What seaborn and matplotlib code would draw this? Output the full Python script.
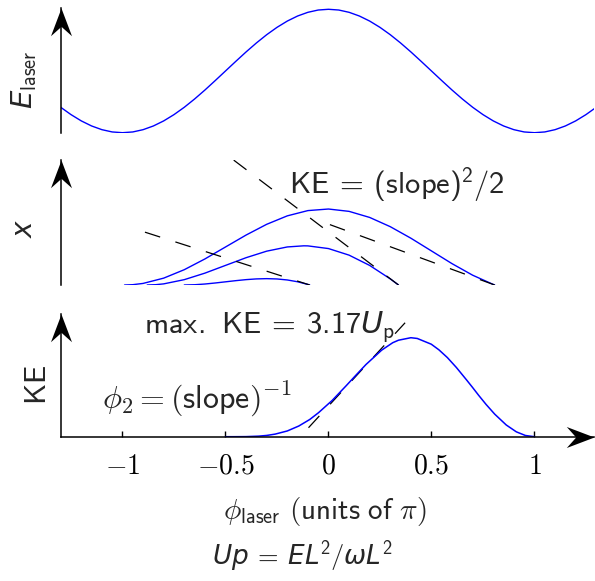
import matplotlib
matplotlib.use("Agg")
import matplotlib.pyplot as plt
import seaborn as sns
from matplotlib.path import Path

# ---------------- data ----------------
# top panel: laser field E_laser vs phase (units of pi)
phi_field = [-1.30, -1.25, -1.20, -1.15, -1.10, -1.05, -1.00, -0.95, -0.90, -0.85,
             -0.80, -0.75, -0.70, -0.65, -0.60, -0.55, -0.50, -0.45, -0.40, -0.35,
             -0.30, -0.25, -0.20, -0.15, -0.10, -0.05, 0.00, 0.05, 0.10, 0.15,
             0.20, 0.25, 0.30, 0.35, 0.40, 0.45, 0.50, 0.55, 0.60, 0.65,
             0.70, 0.75, 0.80, 0.85, 0.90, 0.95, 1.00, 1.05, 1.10, 1.15,
             1.20, 1.25, 1.30]
e_field = [-0.588, -0.707, -0.809, -0.891, -0.951, -0.988, -1.000, -0.988, -0.951, -0.891,
           -0.809, -0.707, -0.588, -0.454, -0.309, -0.156, 0.000, 0.156, 0.309, 0.454,
           0.588, 0.707, 0.809, 0.891, 0.951, 0.988, 1.000, 0.988, 0.951, 0.891,
           0.809, 0.707, 0.588, 0.454, 0.309, 0.156, 0.000, -0.156, -0.309, -0.454,
           -0.588, -0.707, -0.809, -0.891, -0.951, -0.988, -1.000, -0.988, -0.951, -0.891,
           -0.809, -0.707, -0.588]

# middle panel: three electron trajectories x(phi)
traj_long_phi = [-0.99, -0.95, -0.90, -0.80, -0.70, -0.60, -0.50, -0.40, -0.30, -0.20,
                 -0.10, 0.00, 0.10, 0.20, 0.30, 0.40, 0.50, 0.60, 0.70, 0.80, 0.807]
traj_long_x = [0.0, 0.0025, 0.0126, 0.0547, 0.1220, 0.2075, 0.3028, 0.3980, 0.4836, 0.5509,
               0.5929, 0.6054, 0.5867, 0.5383, 0.4647, 0.3729, 0.2714, 0.1699, 0.0780, 0.0044, 0.0]
traj_mid_phi = [-0.88, -0.84, -0.80, -0.70, -0.60, -0.50, -0.40, -0.30, -0.20, -0.12,
                -0.10, 0.00, 0.10, 0.20, 0.30, 0.34]
traj_mid_x = [0.0, 0.0023, 0.0090, 0.0426, 0.0945, 0.1561, 0.2176, 0.2696, 0.3032, 0.3122,
              0.3116, 0.2903, 0.2379, 0.1559, 0.0487, 0.0]
traj_short_phi = [-0.70, -0.65, -0.60, -0.55, -0.50, -0.45, -0.40, -0.35, -0.30, -0.25,
                  -0.20, -0.15, -0.10, -0.091]
traj_short_x = [0.0, 0.0021, 0.0078, 0.0160, 0.0253, 0.0346, 0.0428, 0.0485, 0.0506, 0.0481,
                0.0401, 0.0258, 0.0044, 0.0]

# dashed tangents at the return points (start -> end, end value is 0)
tangent_phi_start = [0.007, -0.46, -0.891]
tangent_phi_end = [0.807, 0.34, -0.091]
tangent_x_start = [0.481, 0.995, 0.421]
tangent_x_end = [0.0, 0.0, 0.0]

# bottom panel: return kinetic energy vs return phase
ke_phi = [-0.50, -0.46, -0.40, -0.34, -0.30, -0.259, -0.20, -0.144, -0.091, -0.048,
          0.018, 0.086, 0.133, 0.182, 0.258, 0.312, 0.34, 0.40, 0.431, 0.499,
          0.536, 0.577, 0.621, 0.671, 0.699, 0.73, 0.765, 0.807, 0.863, 0.912,
          0.956, 1.00]
ke_val = [0.0, 0.00002, 0.0007, 0.0043, 0.0101, 0.0207, 0.046, 0.0858, 0.138, 0.193,
          0.291, 0.409, 0.493, 0.579, 0.694, 0.754, 0.774, 0.794, 0.788, 0.742,
          0.697, 0.635, 0.555, 0.454, 0.396, 0.330, 0.259, 0.181, 0.094, 0.039,
          0.0097, 0.0]
ke_tan_phi = [-0.097, 0.372]
ke_tan_val = [0.072, 0.914]

tick_vals = [-1, -0.5, 0, 0.5, 1]
tick_labels = [r'$\mathsf{-1}$', r'$\mathsf{-0.5}$', r'$\mathsf{0}$', r'$\mathsf{0.5}$', r'$\mathsf{1}$']

# ---------------- style ----------------
sns.set_style("white")
plt.rcParams['font.family'] = ['DejaVu Sans']
plt.rcParams['mathtext.fontset'] = 'cm'
plt.rcParams['mathtext.rm'] = 'cmss10'
plt.rcParams['mathtext.sf'] = 'cmss10'
plt.rcParams['mathtext.bf'] = 'cmss10'
plt.rcParams['mathtext.it'] = 'DejaVu Sans:italic'
plt.rcParams['lines.scale_dashes'] = False

W, H = 595, 581
fig = plt.figure(figsize=(W / 100, H / 100), dpi=100)

XL = (-1.30, 1.29)
left_px, right_px = 60.7, 594.2


def add_axes(top_px, bot_px):
    return fig.add_axes([left_px / W, 1 - bot_px / H, (right_px - left_px) / W,
                         (bot_px - top_px) / H])


def fx(px):
    return px / W


def fy(py):
    return 1 - py / H


def stealth(direction):
    if direction == 'up':
        verts = [(0, 0), (10.5, -27.7), (0, -18.3), (-10.5, -27.7), (0, 0)]
    else:
        verts = [(0, 0), (-27.7, 10.5), (-18.3, 0), (-27.7, -10.5), (0, 0)]
    codes = [Path.MOVETO, Path.LINETO, Path.LINETO, Path.LINETO, Path.CLOSEPOLY]
    return Path(verts, codes)


def style_axis(ax, ylim, xaxis=False):
    ax.set_xlim(*XL)
    ax.set_ylim(*ylim)
    for s in ['top', 'right']:
        ax.spines[s].set_visible(False)
    ax.spines['left'].set_linewidth(1.1)
    ax.spines['left'].set_color('black')
    ax.set_yticks([])
    ax.plot([0], [1], marker=stealth('up'), ms=39.9, color='black', mew=0,
            transform=ax.transAxes, clip_on=False, zorder=5)
    if xaxis:
        ax.spines['bottom'].set_linewidth(1.1)
        ax.spines['bottom'].set_color('black')
        ax.plot([1], [0], marker=stealth('right'), ms=39.9, color='black', mew=0,
                transform=ax.transAxes, clip_on=False, zorder=5)
        ax.set_xticks(tick_vals)
        ax.set_xticklabels(tick_labels, math_fontfamily='cm', fontsize=20)
        ax.tick_params(axis='x', direction='in', length=4.5, width=1.0, pad=11,
                       colors='black', bottom=True)
    else:
        ax.spines['bottom'].set_visible(False)
        ax.set_xticks([])
    ax.set_xlabel('')
    ax.set_ylabel('')
    ax.patch.set_alpha(0)


# ---- top panel ----
ax1 = add_axes(8.3, 133.0)
sns.lineplot(x=phi_field, y=e_field, ax=ax1, color='blue', linewidth=1.0,
             sort=False, estimator=None)
style_axis(ax1, (-1.005, 1.016))

# ---- middle panel ----
ax2 = add_axes(160.0, 285.0)
for px_, xx_ in [(traj_long_phi, traj_long_x), (traj_mid_phi, traj_mid_x),
                 (traj_short_phi, traj_short_x)]:
    sns.lineplot(x=px_, y=xx_, ax=ax2, color='blue', linewidth=1.0,
                 sort=False, estimator=None)
for i in range(len(tangent_phi_start)):
    sns.lineplot(x=[tangent_phi_start[i], tangent_phi_end[i]],
                 y=[tangent_x_start[i], tangent_x_end[i]], ax=ax2, color='black',
                 linewidth=0.9, sort=False, estimator=None)
    ax2.lines[-1].set_dashes([11.5, 11.5])
style_axis(ax2, (0, 0.996))

# ---- bottom panel ----
ax3 = add_axes(314.4, 436.7)
sns.lineplot(x=ke_tan_phi, y=ke_tan_val, ax=ax3, color='black', linewidth=0.9,
             sort=False, estimator=None)
ax3.lines[-1].set_dashes([11.5, 11.5])
sns.lineplot(x=ke_phi, y=ke_val, ax=ax3, color='blue', linewidth=1.1,
             sort=False, estimator=None)
style_axis(ax3, (0, 0.981), xaxis=True)

# ---------------- texts ----------------
fig.text(fx(24), fy(80), r'$E_{\mathrm{laser}}$', rotation=90, ha='center', va='center',
         fontsize=21, math_fontfamily='custom')
fig.text(fx(24), fy(228), r'$x$', rotation=90, ha='center', va='center',
         fontsize=20, math_fontfamily='custom')
fig.text(fx(37), fy(385), r'$\mathrm{KE}$', rotation=90, ha='center', va='center',
         fontsize=22, math_fontfamily='custom')

fig.text(fx(289), fy(194.3), r'$\mathrm{KE}\,=\,\mathrm{(slope)}^{2}/2$', ha='left',
         va='baseline', fontsize=22, math_fontfamily='custom')
fig.text(fx(144), fy(333), r'$\mathrm{max.\ KE}\,=\,3.17U_{\mathrm{p}}$', ha='left',
         va='baseline', fontsize=22, math_fontfamily='custom')
fig.text(fx(102.5), fy(408), r'$\phi_{\mathsf{2}} = \mathsf{(slope)}^{-\mathsf{1}}$',
         ha='left', va='baseline', fontsize=23, math_fontfamily='cm')
fig.text(fx(325), fy(512), r'$\phi_{\mathsf{laser}}\ \mathsf{(units\ of}\ \pi\mathsf{)}$',
         ha='center', va='center', fontsize=21, math_fontfamily='cm')
fig.text(fx(302), fy(556), r'$Up\,=\,EL^{2}/\omega L^{2}$', ha='center', va='center',
         fontsize=19, math_fontfamily='custom')

fig.savefig('out.png', dpi=100)
